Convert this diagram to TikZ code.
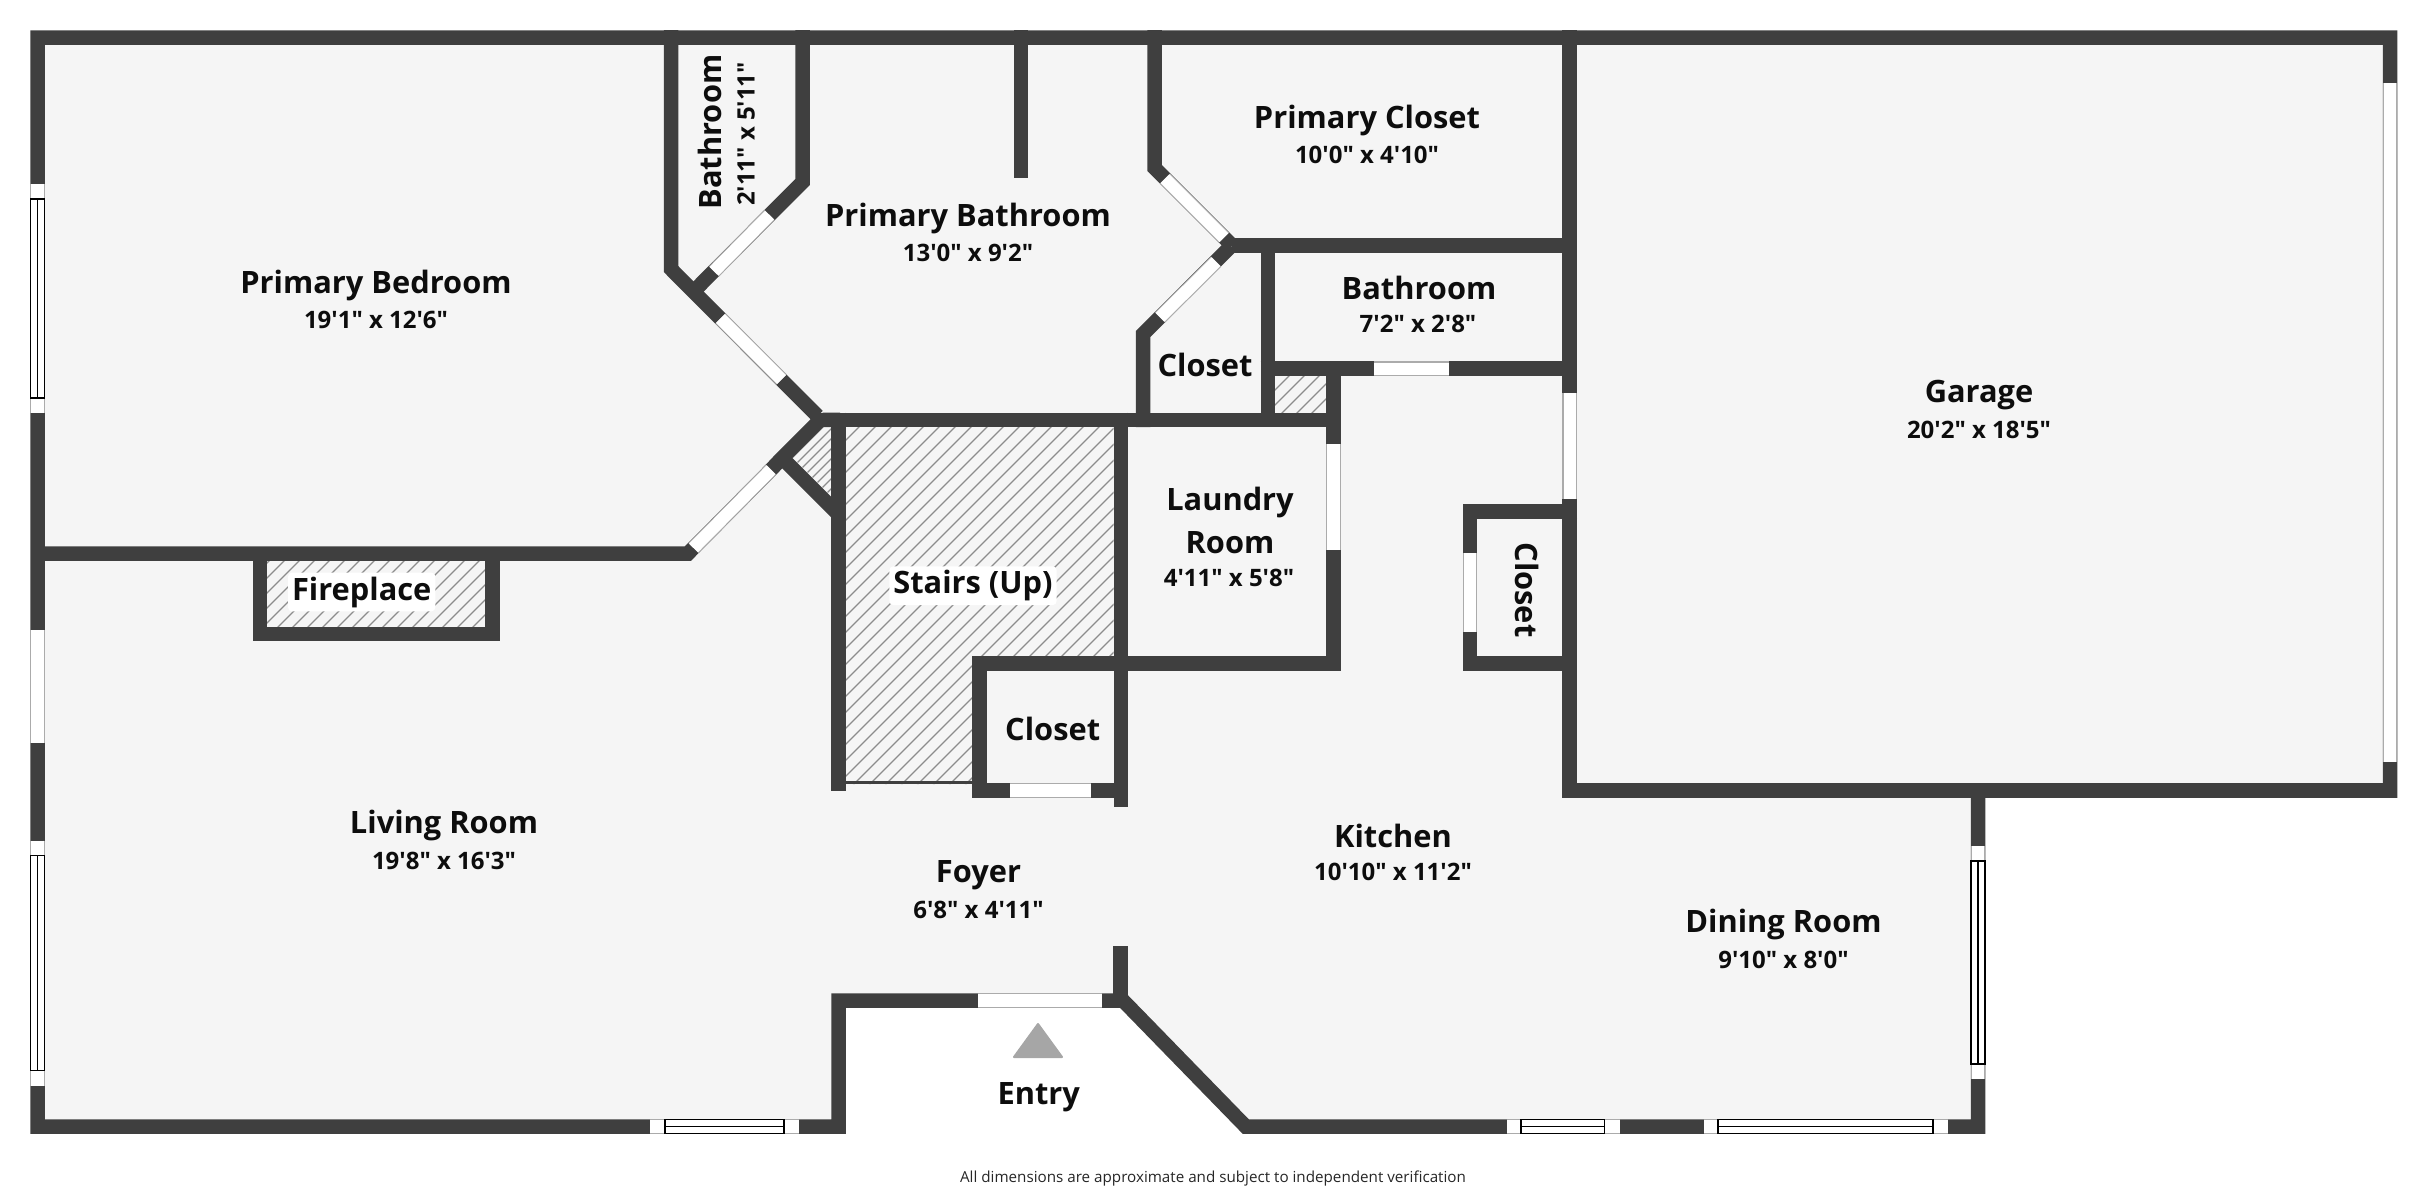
\documentclass[tikz,border=0pt]{standalone}
\usepackage{fontspec}
\newfontfamily\planfont{Open Sans}
\definecolor{wallc}{HTML}{3F3F3F}
\definecolor{floorc}{HTML}{F5F5F5}
\definecolor{wing}{HTML}{ABABAB}
\definecolor{arrowc}{HTML}{A6A6A6}
\definecolor{hatchc}{HTML}{8C8C8C}
\tikzset{
  wall/.style={draw=wallc,line width=7.25pt,line join=miter,miter limit=10,line cap=butt},
  wino/.style={draw=wing,line width=7.25pt,line cap=butt},
  wini/.style={draw=white,line width=6.2pt,line cap=butt},
  pane/.style={draw=black,line width=0.6pt,fill=white},
  hatchl/.style={draw=hatchc,line width=0.6pt},
  rname/.style={font=\planfont\bfseries\fontsize{15.4}{18}\selectfont,text=black!95,inner sep=0pt,align=center},
  rsize/.style={font=\planfont\bfseries\fontsize{12}{14}\selectfont,text=black!95,inner sep=0pt},
  halo/.style={fill=white,inner sep=2pt,rounded corners=2pt},
  note/.style={font=\planfont\fontsize{7.6}{9}\selectfont,text=black!85,inner sep=0pt}
}
\newcommand{\planwin}[2]{\draw[wino] #1 -- #2; \draw[wini] #1 -- #2;}
\newcommand{\planglazv}[5]{% x, y1,y2, inner y1,y2
  \draw[wino] (#1,#2) -- (#1,#3); \draw[wini] (#1,#2) -- (#1,#3);
  \draw[pane] ({#1-7},#4) rectangle ({#1+7},#5);
  \draw[pane] (#1,#4) -- (#1,#5);}
\newcommand{\planglazh}[5]{% y, x1,x2, inner x1,x2
  \draw[wino] (#2,#1) -- (#3,#1); \draw[wini] (#2,#1) -- (#3,#1);
  \draw[pane] (#4,{#1-7}) rectangle (#5,{#1+7});
  \draw[pane] (#4,#1) -- (#5,#1);}
\begin{document}
\begin{tikzpicture}[x=0.5pt,y=-0.5pt]
\useasboundingbox (0,0) rectangle (2428,1194);
% floor
\fill[floorc] (37.5,37.5) -- (2390,37.5) -- (2390,790.5) -- (1978,790.5) -- (1978,1126.5) -- (1245.7,1126.5) -- (1123,1000.5) -- (838.5,1000.5) -- (838.5,1126.5) -- (37.5,1126.5) -- cycle;
% hatching
\begin{scope}
\clip (846,427) -- (1113.5,427) -- (1113.5,656) -- (972.5,656) -- (972.5,784) -- (846,784) -- cycle;
\foreach \c in {1270,1286,...,1900} \draw[hatchl] ({\c-400},400) -- ({\c-800},800);
\end{scope}
\begin{scope}
\clip (267,561) rectangle (486,627);
\foreach \c in {830,845,...,1110} \draw[hatchl] ({\c-500},500) -- ({\c-700},700);
\end{scope}
\begin{scope}
\clip (1275,376) rectangle (1326,413);
\foreach \c in {1650,1665,...,1740} \draw[hatchl] ({\c-300},300) -- ({\c-500},500);
\end{scope}
\begin{scope}
\clip (823,427) -- (832,427) -- (832,497) -- (790,455) -- cycle;
\foreach \c in {1240,1250,...,1330} \draw[hatchl] ({\c-400},400) -- ({\c-600},600);
\end{scope}
% outer wall
\draw[wall] (37.5,37.5) -- (2390,37.5) -- (2390,790.5) -- (1978,790.5) -- (1978,1126.5) -- (1245.7,1126.5) -- (1123,1000.5) -- (838.5,1000.5) -- (838.5,1126.5) -- (37.5,1126.5) -- cycle;
% interior walls
\draw[wall] (37.5,553.5) -- (688,553.5) -- (771,469.7) -- (782,458) -- (818,422);
\draw[wall] (781,457) -- (838.5,514.5);
\draw[wall] (260,553.5) -- (260,633.8) -- (492.6,633.8) -- (492.6,553.5);
\draw[wall] (671,30) -- (671,269) -- (817.5,416);
\draw[wall] (802.5,30) -- (802.5,182) -- (698,287);
\draw[wall] (1021,30) -- (1021,178);
\draw[wall] (1154.5,30) -- (1154.5,168) -- (1232,245.5);
\draw[wall] (1143,427) -- (1143,334) -- (1231,246);
\fill[wallc] (810,420) -- (823,412.7) -- (840,412.7) -- (840,427) -- (820,427) -- cycle;
\draw[wall] (817,420) -- (1340.7,420);
\draw[wall] (838.5,412.7) -- (838.5,790.7);
\draw[wall] (1120.8,412.7) -- (1120.8,807);
\draw[wall] (972.3,663.3) -- (1340.7,663.3);
\draw[wall] (979.7,656) -- (979.7,797.7);
\draw[wall] (972.3,790.5) -- (1128.3,790.5);
\draw[draw=wallc,line width=1.3pt] (846,782.7) -- (973,782.7);
\draw[wall] (1333.3,361.3) -- (1333.3,670.7);
\draw[wall] (1232,245.5) -- (1577,245.5);
\draw[wall] (1260.7,368.7) -- (1577,368.7);
\draw[wall] (1268,238.3) -- (1268,427.3);
\draw[wall] (1569.7,30) -- (1569.7,798);
\draw[wall] (1562.7,790.5) -- (2397,790.5);
\draw[wall] (1577,511.3) -- (1470,511.3) -- (1470,663.3) -- (1577,663.3);
\draw[wall] (1120.5,946) -- (1120.5,1004);
% openings
\planglazv{37.5}{184}{412.5}{199}{398}
\planwin{(37.5,630.3)}{(37.5,743)}
\planglazv{37.5}{840.5}{1086}{855.7}{1070.5}
\planglazh{1126.5}{650}{799}{665}{784}
\planglazh{1126.5}{1507}{1619.5}{1521}{1604.7}
\planglazh{1126.5}{1704}{1947.6}{1718}{1933}
\planglazv{1978}{846}{1079}{861}{1064}
\planwin{(2390,83)}{(2390,762)}
\planwin{(978,1000.5)}{(1102,1000.5)}
\planwin{(693.5,548)}{(771,469.7)}
\planwin{(720.4,318.4)}{(781.5,379.5)}
\planwin{(769.5,215)}{(714,271.3)}
\planwin{(1165,178.7)}{(1224,237.7)}
\planwin{(1160,317.3)}{(1216,261.7)}
\planwin{(1010,790.5)}{(1091,790.5)}
\planwin{(1333.3,444.3)}{(1333.3,550)}
\planwin{(1374,368.7)}{(1448.7,368.7)}
\planwin{(1569.7,393.3)}{(1569.7,499)}
\planwin{(1470,553.3)}{(1470,631.7)}
% entry arrow
\fill[arrowc,draw=arrowc,line width=1pt,line join=round] (1038,1024) -- (1062,1057) -- (1014,1057) -- cycle;
% labels
\node[rname] (pbed) at (376,285) {Primary Bedroom};
\node[rsize] (pbeds) at (376,320) {19'1" x 12'6"};
\node[rname,rotate=90] (bath1) at (710,132) {Bathroom};
\node[rsize,rotate=90] (bath1s) at (746,134) {2'11" x 5'11"};
\node[rname] (pbath) at (968,218) {Primary Bathroom};
\node[rsize] (pbaths) at (968,253) {13'0" x 9'2"};
\node[rname] (pclos) at (1367,120) {Primary Closet};
\node[rsize] (pcloss) at (1367,155) {10'0" x 4'10"};
\node[rname] (bath2) at (1419,288) {Bathroom};
\node[rsize] (bath2s) at (1418,324) {7'2" x 2'8"};
\node[rname] (clos1) at (1205,365) {Closet};
\node[rname] (gar) at (1979,395) {Garage};
\node[rsize] (gars) at (1979,430) {20'2" x 18'5"};
\node[rname] (laun1) at (1230,502) {Laundry};
\node[rname] (laun2) at (1230,542.7) {Room};
\node[rsize] (launs) at (1229,578) {4'11" x 5'8"};
\node[rname,rotate=-90] (clos2) at (1526.7,590) {Closet};
\node[rname,halo] (stair) at (973,585.7) {Stairs (Up)};
\node[rname] (clos3) at (1052.7,729) {Closet};
\node[rname,halo] (fire) at (361.7,592) {Fireplace};
\node[rname] (liv) at (444,825) {Living Room};
\node[rsize] (livs) at (444,861) {19'8" x 16'3"};
\node[rname] (foy) at (978.5,875) {Foyer};
\node[rsize] (foys) at (978.5,910) {6'8" x 4'11"};
\node[rname] (kit) at (1393,836) {Kitchen};
\node[rsize] (kits) at (1393,871.5) {10'10" x 11'2"};
\node[rname] (din) at (1783.5,924) {Dining Room};
\node[rsize] (dins) at (1783.5,960) {9'10" x 8'0"};
\node[rname] (entry) at (1038.7,1097) {Entry};
\node[note] (foot) at (1213,1178) {All dimensions are approximate and subject to independent verification};
\end{tikzpicture}
\end{document}
